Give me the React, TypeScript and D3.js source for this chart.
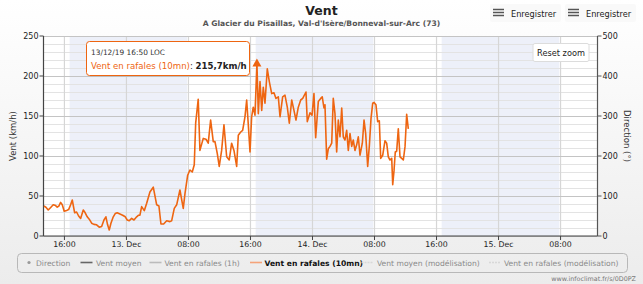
import React from 'react';
import * as d3 from 'd3';

const W = 643;
const H = 284;

const chartTitle = 'Vent';
const chartSubtitle = "A Glacier du Pisaillas, Val-d'Isère/Bonneval-sur-Arc (73)";
const leftAxisTitle = 'Vent (km/h)';
const rightAxisTitle = 'Direction (°)';
const footerText = 'www.infoclimat.fr/s/0D0PZ';
const exportLabel = 'Enregistrer';
const resetLabel = 'Reset zoom';

const xDomainStart = '2019-12-12T13:18';
const xDomainEnd = '2019-12-15T12:46';
const baseDay = '2019-12-12T00:00';

// hours since 12 Dec 2019 00:00
const gustHours = [
  13.35, 13.61, 13.91, 14.26, 14.55, 14.86, 15.07, 15.29, 15.51, 15.72,
  15.97, 16.28, 16.54, 16.8, 17.01, 17.32, 17.57, 17.83, 18.09, 18.43,
  18.68, 18.94, 19.2, 19.51, 19.81, 20.15, 20.49, 20.8, 21.1, 21.35,
  21.57, 21.78, 22.0, 22.3, 22.55, 22.81, 23.16, 23.51, 23.85, 24.1,
  24.36, 24.67, 24.97, 25.32, 25.57, 25.74, 25.96, 26.3, 26.61, 27.03,
  27.46, 27.9, 28.19, 28.45, 28.8, 29.19, 29.61, 29.83, 30.17, 30.48,
  30.9, 31.33, 31.55, 31.9, 32.19, 32.49, 32.75, 32.93, 33.26, 33.48,
  33.91, 34.26, 34.55, 34.86, 35.2, 35.42, 35.72, 35.97, 36.28, 36.58,
  36.93, 37.26, 37.57, 37.87, 38.22, 38.43, 38.74, 38.99, 39.29, 39.51,
  39.72, 39.94, 40.15, 40.36, 40.58, 40.833, 41.01, 41.23, 41.45, 41.65,
  41.87, 42.17, 42.43, 42.74, 43.03, 43.29, 43.59, 43.81, 44.15, 44.45,
  44.75, 45.01, 45.32, 45.61, 45.87, 46.17, 46.48, 46.74, 47.16, 47.33,
  47.68, 47.94, 48.19, 48.41, 48.75, 49.06, 49.26, 49.48, 49.61, 49.83,
  50.04, 50.26, 50.48, 50.68, 50.9, 51.12, 51.33, 51.55, 51.77, 51.97,
  52.19, 52.41, 52.62, 52.84, 53.06, 53.26, 53.48, 53.7, 53.91, 54.13,
  54.43, 54.65, 54.86, 55.12, 55.33, 55.55, 55.77, 55.94, 56.19, 56.41,
  56.62, 56.8, 57.06, 57.35, 57.57, 57.78, 58.0, 58.22, 58.35, 58.52,
  58.68, 58.86, 59.07, 59.29, 59.51, 59.72, 59.94, 60.15, 60.36,
];

const gustValues = [
  37.5, 36, 32.5, 36, 39, 38, 36, 37.5, 42, 39,
  31, 32, 33, 39, 45, 29, 30, 25, 22, 32.5,
  29, 24, 21, 16, 14.5, 14, 11, 12, 20, 24,
  14, 7.5, 16, 24, 28, 29, 27.5, 26, 24, 20,
  19, 22, 20, 24, 26, 26, 36.7, 31.7, 41, 55,
  61, 39, 37.5, 15, 15, 19, 18, 19, 34.5, 39,
  57.5, 34.5, 53, 76, 82.5, 80, 89, 141, 171, 107,
  122, 121, 116, 145, 118, 118, 103, 87, 107, 139,
  99, 95, 116, 107, 87, 126, 130, 132, 149, 170,
  139, 105, 149, 161, 151, 215.7, 153, 193, 157, 186,
  166, 209, 193, 178, 179, 172, 174, 149, 174, 176,
  161, 141, 170, 157, 145, 161, 170, 172, 180, 143,
  154, 151, 178, 123, 168, 172, 174, 160, 164, 96,
  109, 112, 116, 172, 153, 105, 145, 124, 160, 124,
  120, 132, 107, 128, 112, 120, 107, 114, 124, 101,
  116, 145, 128, 87, 112, 147, 166, 167, 164, 143,
  144, 97, 101, 119, 116, 99, 95, 97, 64, 82,
  105, 106, 134, 99, 97, 95, 112, 152, 134,
];

const nightStarts = ['2019-12-12T16:40', '2019-12-13T16:40', '2019-12-14T16:40'];
const nightEnds = ['2019-12-13T07:50', '2019-12-14T07:50', '2019-12-15T07:50'];

const leftTicks = [0, 50, 100, 150, 200, 250];
const rightTicks = [0, 100, 200, 300, 400, 500];

const legendNames = [
  'Direction',
  'Vent moyen',
  'Vent en rafales (1h)',
  'Vent en rafales (10mn)',
  'Vent moyen (modélisation)',
  'Vent en rafales (modélisation)',
];
const legendActive = [false, false, false, true, false, false];

const tooltipHeader = '13/12/19 16:50 LOC';
const tooltipSeries = 'Vent en rafales (10mn)';
const tooltipValue = '215,7km/h';
const highlightHour = 40.833;

const FONT = '"DejaVu Sans", Verdana, sans-serif';
const ORANGE = '#ee6511';

export default function App() {
  const left = 43.5;
  const right = 597.5;
  const top = 36;
  const bottom = 236;

  const base = new Date(baseDay).getTime();
  const toDate = (h: number) => new Date(base + h * 3600e3);

  const x = d3
    .scaleTime()
    .domain([new Date(xDomainStart), new Date(xDomainEnd)])
    .range([left, right]);
  const y = d3.scaleLinear().domain([0, 250]).range([bottom, top]);
  const y2 = d3.scaleLinear().domain([0, 500]).range([bottom, top]);

  const data = gustHours.map((h, i) => ({ t: toDate(h), v: gustValues[i] }));
  const line = d3
    .line<{ t: Date; v: number }>()
    .x((d) => x(d.t))
    .y((d) => y(d.v));

  const xTicks = d3.timeHour.every(8)!.range(x.domain()[0], x.domain()[1]);
  const fmtTick = (d: Date) =>
    d.getHours() === 0 ? d3.timeFormat('%-d. %b')(d) : d3.timeFormat('%H:%M')(d);

  const minorY = d3.range(0, 251, 10).filter((v) => v % 50 !== 0);

  const hp = { x: x(toDate(highlightHour)), y: y(gustValues[gustHours.indexOf(highlightHour)]) };

  // legend layout
  const legendSym = [27, 80.5, 149.5, 250, 361.5, 489];
  const legendTxt = [36, 96, 164.5, 264.5, 377, 504];
  const legendY = 265.5;

  const legendSymbol = (i: number) => {
    const sx = legendSym[i];
    if (i === 0) return <circle cx={sx + 2} cy={legendY - 3} r={1.6} fill="#999" />;
    const styles = [
      null,
      { stroke: '#666', dash: undefined },
      { stroke: '#bbb', dash: undefined },
      { stroke: '#f5a37a', dash: undefined },
      { stroke: '#d8d8d8', dash: '2,1' },
      { stroke: '#d8d8d8', dash: '2,1' },
    ][i]!;
    return (
      <line
        x1={sx}
        x2={sx + 12}
        y1={legendY - 3}
        y2={legendY - 3}
        stroke={styles.stroke}
        strokeWidth={1.6}
        strokeDasharray={styles.dash}
      />
    );
  };

  const exportButton = (bx: number) => (
    <g>
      <rect x={bx} y={4} width={71} height={18} rx={2} fill="#f9f9f9" />
      {[0, 3, 6].map((o) => (
        <line key={o} x1={bx + 3} x2={bx + 14} y1={9.5 + o} y2={9.5 + o} stroke="#555" strokeWidth={1.5} />
      ))}
      <text x={bx + 21} y={16.5} fontSize={8.2} fill="#222" fontFamily={FONT}>
        {exportLabel}
      </text>
    </g>
  );

  return (
    <svg
      width={W}
      height={H}
      style={{ position: 'absolute', left: 0, top: 0 }}
      xmlns="http://www.w3.org/2000/svg"
    >
      <defs>
        <linearGradient id="bg" x1="0" y1="0" x2="0" y2="1">
          <stop offset="0" stopColor="#ffffff" />
          <stop offset="1" stopColor="#ececec" />
        </linearGradient>
        <clipPath id="plotclip">
          <rect x={left} y={top - 10} width={right - left} height={bottom - top + 10} />
        </clipPath>
      </defs>
      <rect x={0} y={0} width={W} height={H} fill="url(#bg)" />
      <rect x={left} y={top} width={right - left} height={bottom - top} fill="#ffffff" />

      {/* night bands */}
      {nightStarts.map((s, i) => {
        const x0 = Math.max(left, x(new Date(s)));
        const x1 = Math.min(right, x(new Date(nightEnds[i])));
        return <rect key={i} x={x0} y={top} width={x1 - x0} height={bottom - top} fill="#edf0f9" />;
      })}

      {/* minor grid */}
      {minorY.map((v) => (
        <line key={'m' + v} x1={left} x2={right} y1={y(v) + 0.5} y2={y(v) + 0.5} stroke="#e3e3e3" strokeWidth={1} />
      ))}
      {/* vertical grid */}
      {xTicks.map((d, i) => (
        <line key={'v' + i} x1={x(d)} x2={x(d)} y1={top} y2={bottom} stroke="#d6d6d6" strokeWidth={1.2} />
      ))}
      {/* major grid */}
      {leftTicks.map((v) => (
        <line key={'g' + v} x1={left} x2={right} y1={y(v) + 0.5} y2={y(v) + 0.5} stroke="#c4c4c4" strokeWidth={1} />
      ))}

      {/* axes */}
      <line x1={left} x2={left} y1={top} y2={bottom} stroke="#444" strokeWidth={1.2} />
      <line x1={right} x2={right} y1={top} y2={bottom} stroke="#555" strokeWidth={1.2} />
      <line x1={left} x2={right} y1={bottom} y2={bottom} stroke="#444" strokeWidth={1.2} />

      {leftTicks.map((v) => (
        <g key={'lt' + v}>
          <line x1={left - 4} x2={left} y1={y(v)} y2={y(v)} stroke="#444" />
          <text x={left - 5} y={y(v) + 3} textAnchor="end" fontSize={8} fill="#222" fontFamily={FONT}>
            {v}
          </text>
        </g>
      ))}
      {rightTicks.map((v) => (
        <g key={'rt' + v}>
          <line x1={right} x2={right + 4} y1={y2(v)} y2={y2(v)} stroke="#555" />
          <text x={right + 5} y={y2(v) + 3} textAnchor="start" fontSize={8} fill="#222" fontFamily={FONT}>
            {v}
          </text>
        </g>
      ))}
      {xTicks.map((d, i) => (
        <g key={'xt' + i}>
          <line x1={x(d)} x2={x(d)} y1={bottom} y2={bottom + 4} stroke="#444" />
          <text x={x(d)} y={bottom + 10.5} textAnchor="middle" fontSize={7.8} fill="#222" fontFamily={FONT}>
            {fmtTick(d)}
          </text>
        </g>
      ))}

      {/* axis titles */}
      <text
        transform={`translate(16,${(top + bottom) / 2}) rotate(-90)`}
        textAnchor="middle"
        fontSize={8.5}
        fill="#333"
        fontFamily={FONT}
      >
        {leftAxisTitle}
      </text>
      <text
        transform={`translate(624,${(top + bottom) / 2}) rotate(90)`}
        textAnchor="middle"
        fontSize={8.5}
        fill="#333"
        fontFamily={FONT}
      >
        {rightAxisTitle}
      </text>

      {/* series */}
      <g clipPath="url(#plotclip)">
        <path d={line(data) ?? ''} fill="none" stroke={ORANGE} strokeWidth={1.6} strokeLinejoin="round" />
        <path
          d={`M${hp.x},${hp.y - 5} L${hp.x + 4.5},${hp.y + 3} L${hp.x - 4.5},${hp.y + 3} Z`}
          fill={ORANGE}
        />
      </g>

      {/* title */}
      <text x={321.5} y={15} textAnchor="middle" fontSize={12.5} fontWeight="bold" fill="#222" fontFamily={FONT}>
        {chartTitle}
      </text>
      <text x={321.5} y={26} textAnchor="middle" fontSize={7.6} fontWeight="bold" fill="#555" fontFamily={FONT}>
        {chartSubtitle}
      </text>

      {exportButton(490)}
      {exportButton(565)}

      {/* reset zoom */}
      <rect x={533} y={43.5} width={56} height={18} rx={2} fill="#ffffff" stroke="#dcdcdc" />
      <text x={561} y={55.5} textAnchor="middle" fontSize={8.2} fill="#222" fontFamily={FONT}>
        {resetLabel}
      </text>

      {/* tooltip */}
      <rect x={87.5} y={42.5} width={163} height={34} rx={3} fill="rgba(0,0,0,0.06)" />
      <rect x={86.5} y={41.5} width={163} height={34} rx={3} fill="#ffffff" stroke={ORANGE} strokeWidth={1} />
      <text x={91} y={55} fontSize={7.4} fill="#333" fontFamily={FONT}>
        {tooltipHeader}
      </text>
      <text x={91} y={68.5} fontSize={8.6} fontFamily={FONT}>
        <tspan fill={ORANGE}>{tooltipSeries}</tspan>
        <tspan fill="#333">: </tspan>
        <tspan fill="#222" fontWeight="bold">
          {tooltipValue}
        </tspan>
      </text>

      {/* legend */}
      <rect x={17.5} y={253.5} width={610} height={19} rx={4} fill="none" stroke="#b8b8b8" />
      {legendNames.map((n, i) => (
        <g key={n}>
          {legendSymbol(i)}
          <text
            x={legendTxt[i]}
            y={legendY}
            fontSize={7.6}
            fill={legendActive[i] ? '#111' : '#8a8a8a'}
            fontWeight={legendActive[i] ? 600 : 'normal'}
            fontFamily={FONT}
          >
            {n}
          </text>
        </g>
      ))}

      <text x={636} y={281} textAnchor="end" fontSize={6.4} fill="#777" fontFamily={FONT}>
        {footerText}
      </text>
    </svg>
  );
}
